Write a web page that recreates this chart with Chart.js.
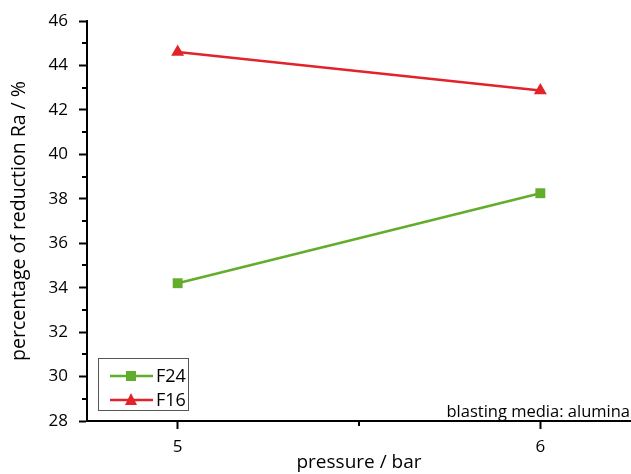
<!DOCTYPE html>
<html>
<head>
<meta charset="utf-8">
<script src="https://cdn.jsdelivr.net/npm/chart.js@4"></script>
<style>
  html, body { margin: 0; padding: 0; background: #fff; }
  #wrap { width: 631px; height: 474px; }
</style>
</head>
<body>
<div id="wrap"><canvas id="myChart" width="631" height="474"></canvas></div>
<script>
// pressure (bar) and reduction of Ra (%)
const pressure = [5, 6];
const f24_val = [34.2, 38.25];
const f16_val = [44.6, 42.87];
const xTicks = [5, 6];
const xMinor = [5.5];
const yMinor = [29, 31, 33, 35, 37, 39, 41, 43, 45];
const note = "blasting media: alumina";

const green = "#62ad2b";
const red = "#e2232a";
const font = "'Open Sans', 'Noto Sans', sans-serif";

function pts(vals){
  return pressure.map(function(p, i){ return {x: p, y: vals[i]}; });
}

// minor ticks, legend box and note text
const extras = {
  id: 'extras',
  afterDraw: function(chart){
    const c = chart.ctx;
    const xs = chart.scales.x, ys = chart.scales.y;
    const area = chart.chartArea;
    c.save();
    c.strokeStyle = "#000";
    c.lineWidth = 2;
    c.beginPath();
    yMinor.forEach(function(v){
      const y = Math.round(ys.getPixelForValue(v));
      c.moveTo(area.left - 5, y);
      c.lineTo(area.left, y);
    });
    xMinor.forEach(function(v){
      const x = Math.round(xs.getPixelForValue(v));
      c.moveTo(x, area.bottom);
      c.lineTo(x, area.bottom + 5);
    });
    c.stroke();

    // legend
    c.lineWidth = 1;
    c.strokeStyle = "#555";
    c.strokeRect(98.5, 358.5, 90, 52);
    chart.data.datasets.forEach(function(ds, i){
      const y = 376 + i * 24;
      c.strokeStyle = ds.borderColor;
      c.lineWidth = 2.5;
      c.beginPath();
      c.moveTo(110, y);
      c.lineTo(153, y);
      c.stroke();
      c.fillStyle = ds.backgroundColor;
      if (ds.pointStyle === 'rect') {
        c.fillRect(126, y - 5, 10, 10);
      } else {
        c.beginPath();
        c.moveTo(131, y - 7);
        c.lineTo(137, y + 5);
        c.lineTo(125, y + 5);
        c.closePath();
        c.fill();
      }
      c.fillStyle = "#000";
      c.font = "18px " + font;
      c.textBaseline = "middle";
      c.textAlign = "left";
      c.fillText(ds.label, 156, y + 1);
    });

    c.font = "16.5px " + font;
    c.textAlign = "right";
    c.textBaseline = "alphabetic";
    c.fillStyle = "#000";
    c.fillText(note, 630, 417);
    c.restore();
  }
};

window.onload = function(){
  const ctx = document.getElementById('myChart');
  const config = {
    type: 'line',
    data: {
      datasets: [
        {
          label: 'F24',
          data: pts(f24_val),
          borderColor: green,
          backgroundColor: green,
          borderWidth: 2.5,
          pointStyle: 'rect',
          pointRadius: 7,
          pointBorderWidth: 0
        },
        {
          label: 'F16',
          data: pts(f16_val),
          borderColor: red,
          backgroundColor: red,
          borderWidth: 2.5,
          pointStyle: 'triangle',
          pointRadius: 7.5,
          pointBorderWidth: 0
        }
      ]
    },
    options: {
      responsive: false,
      animation: false,
      layout: { autoPadding: false, padding: { top: 21, right: 0, left: 0, bottom: 0 } },
      plugins: { legend: { display: false }, tooltip: { enabled: false } },
      scales: {
        x: {
          type: 'linear',
          min: 4.75,
          max: 6.25,
          afterBuildTicks: function(axis){
            axis.ticks = xTicks.map(function(v){ return {value: v}; });
          },
          afterFit: function(axis){
            axis.height = 53;
            axis.paddingLeft = 0;
            axis.paddingRight = 0;
          },
          border: { color: "#000", width: 2 },
          grid: { drawOnChartArea: false, tickLength: 8, tickColor: "#000", tickWidth: 2 },
          ticks: { color: "#000", font: { family: font, size: 17 }, padding: 8 },
          title: { display: true, text: 'pressure / bar', color: "#000", font: { family: font, size: 19 }, padding: { top: 0, bottom: 0 } }
        },
        y: {
          min: 28,
          max: 46,
          afterFit: function(axis){
            axis.width = 87;
            axis.paddingTop = 0;
            axis.paddingBottom = 0;
          },
          border: { color: "#000", width: 2 },
          grid: { drawOnChartArea: false, tickLength: 8, tickColor: "#000", tickWidth: 2 },
          ticks: { stepSize: 2, color: "#000", font: { family: font, size: 17 }, padding: 11 },
          title: { display: true, text: 'percentage of reduction Ra / %', color: "#000", font: { family: font, size: 19.5 }, padding: { top: 8, bottom: 0 } }
        }
      }
    },
    plugins: [extras]
  };
  new Chart(ctx, config);
};
</script>
</body>
</html>
